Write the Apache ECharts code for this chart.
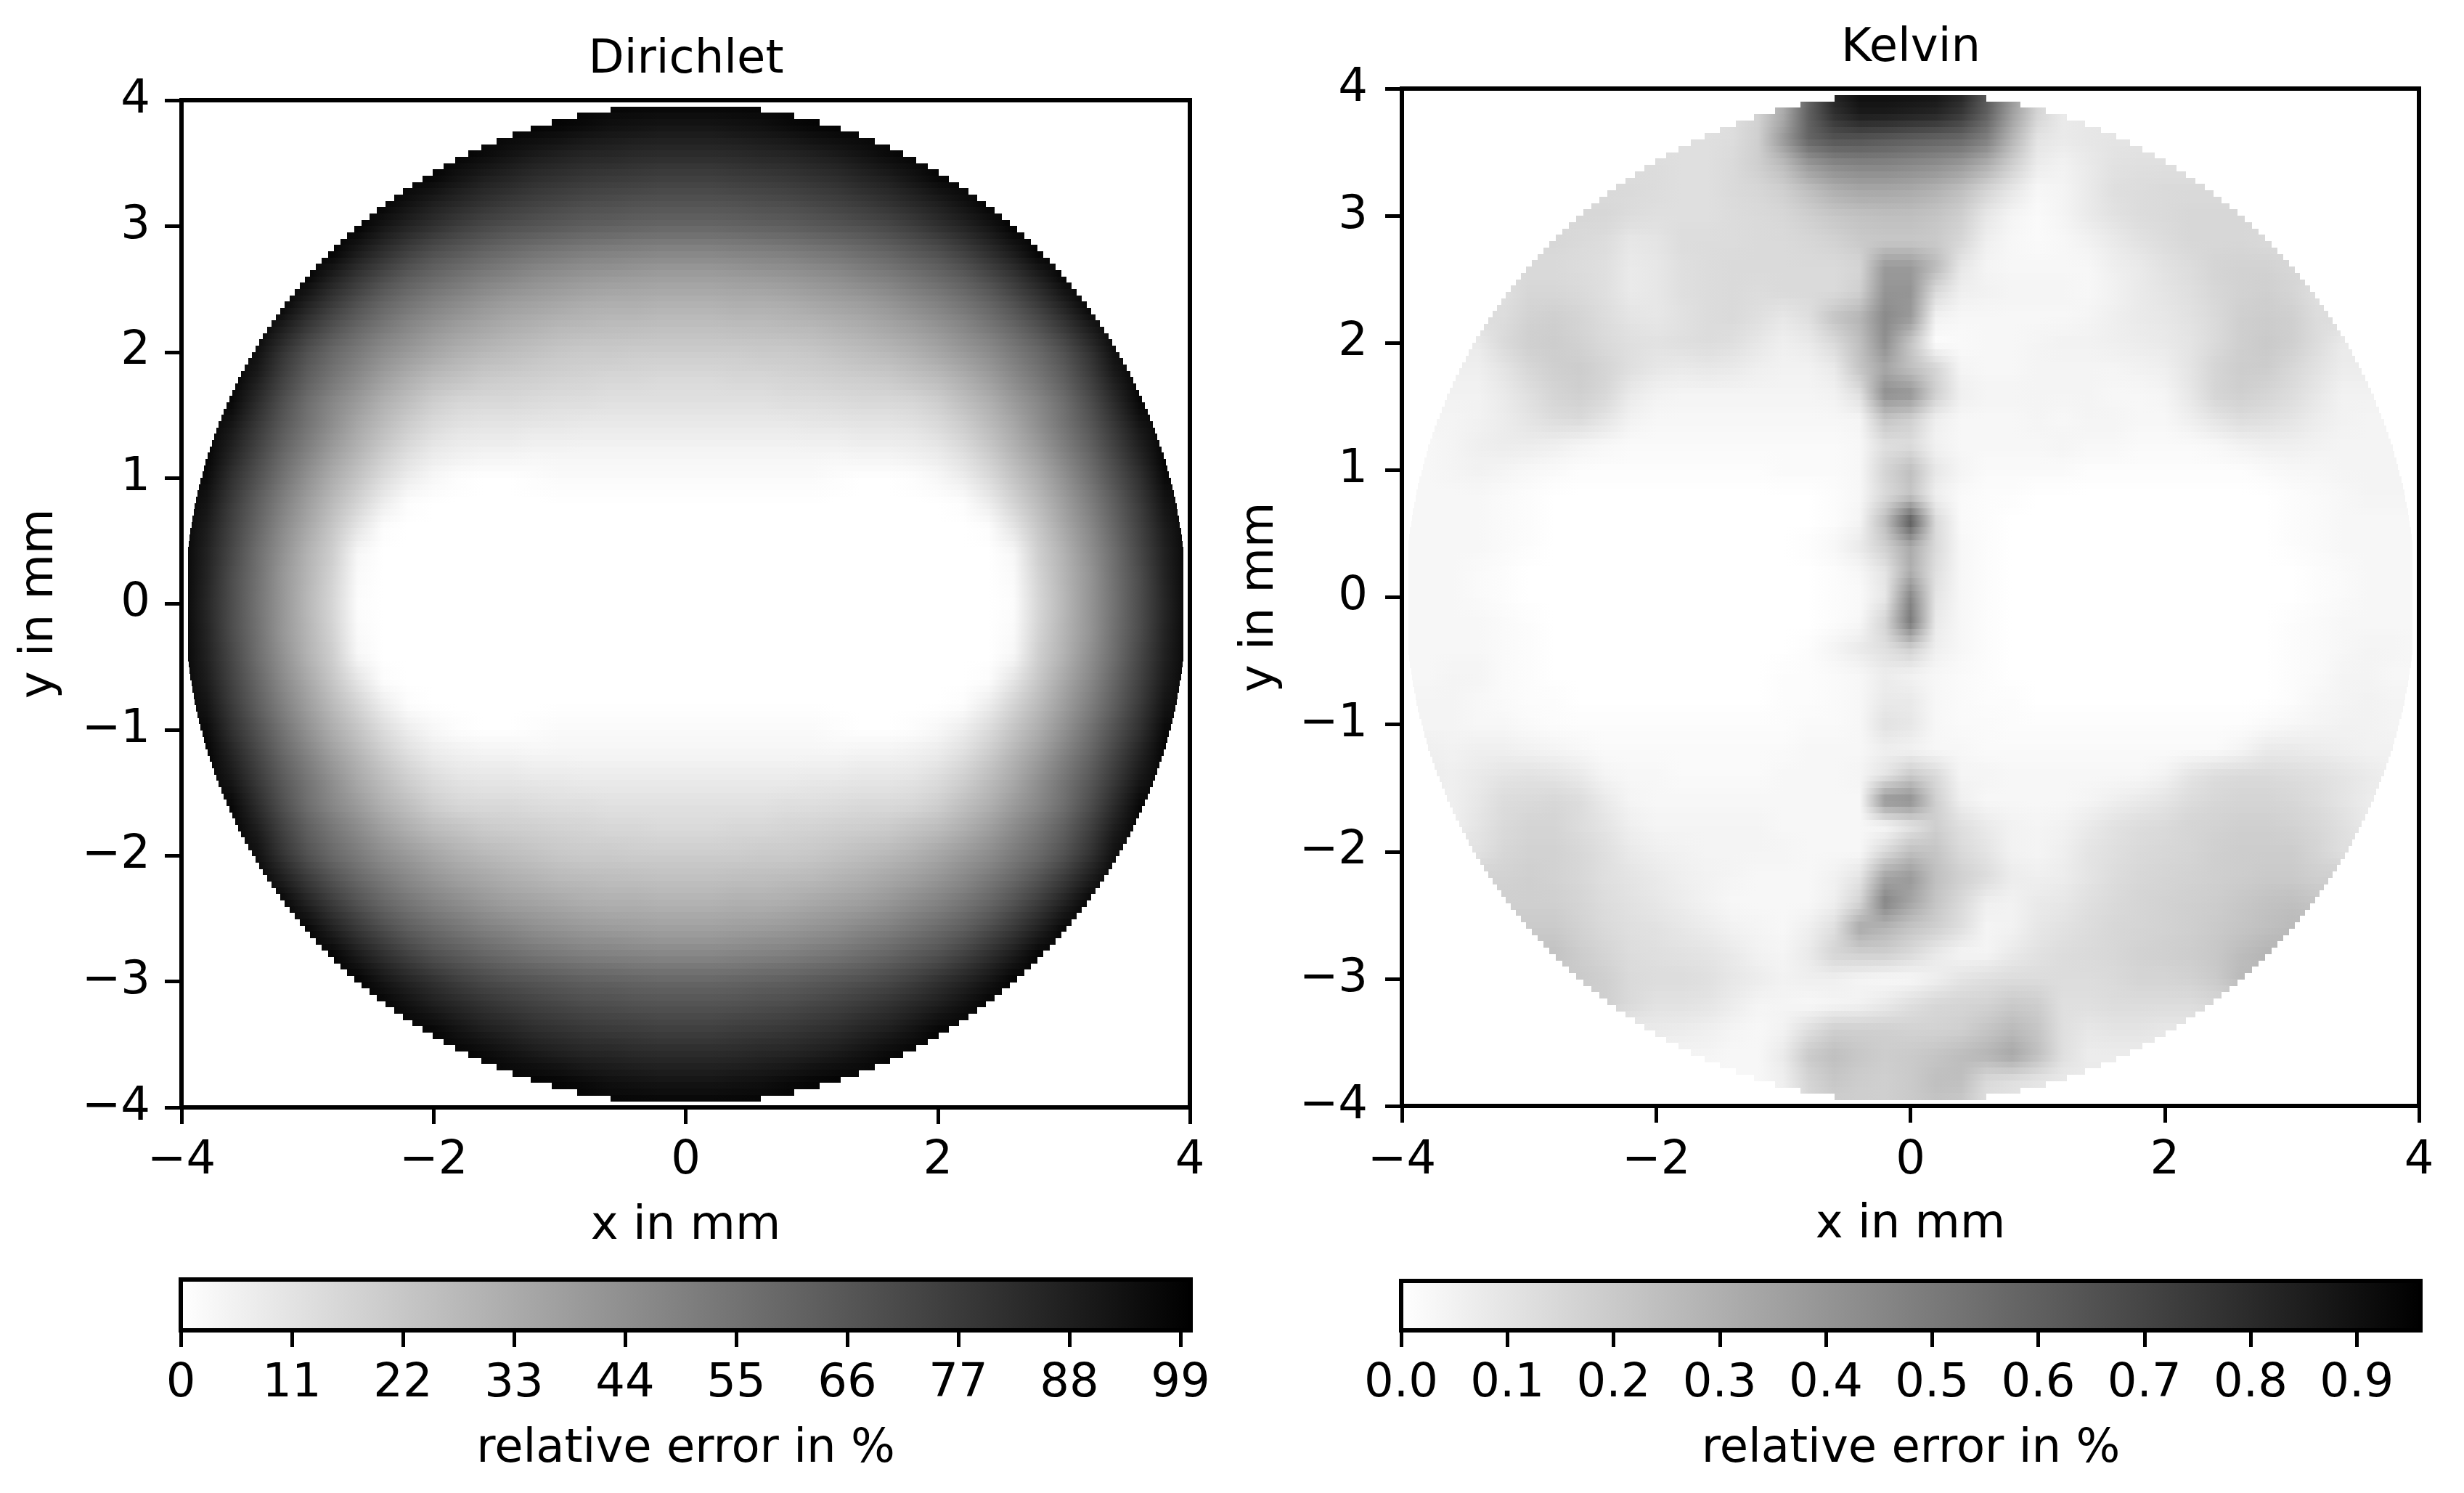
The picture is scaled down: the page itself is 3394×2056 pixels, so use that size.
<!DOCTYPE html>
<html>
<head>
<meta charset="utf-8">
<title>Dirichlet and Kelvin relative error</title>
<style>
  html, body { margin: 0; padding: 0; background: #fff; }
  #main { width: 3394px; height: 2056px; }
</style>
<script src="https://cdn.jsdelivr.net/npm/echarts@6/dist/echarts.min.js"></script>
</head>
<body>
<div id="main"></div>
<script>
// node positions of the value tables below, in mm (same list for x and y)
const nodeCoords = [-4,-3.8,-3.6,-3.4,-3.2,-3,-2.8,-2.6,-2.4,-2.2,-2,-1.8,-1.6,-1.4,-1.2,-1,-0.8,-0.6,-0.4,-0.2,0,0.2,0.4,0.6,0.8,1,1.2,1.4,1.6,1.8,2,2.2,2.4,2.6,2.8,3,3.2,3.4,3.6,3.8,4];

// relative error in %. first row is y = 4, last is y = -4
const dirichletRows = [
[99,99,99,99,99,99,99,99,99,99,99,99,99,99,99,99,99,99,99,99,99,99,99,99,99,99,99,99,99,99,99,99,99,99,99,99,99,99,99,99,99],
[99,99,99,99,99,99,99,99,99,99,99,99,99,99,99,98,96,94,93,92,92,92,93,94,96,98,99,99,99,99,99,99,99,99,99,99,99,99,99,99,99],
[99,99,99,99,99,99,99,99,99,99,99,99,97,94,91,89,87,86,85,84,84,84,85,86,87,89,91,94,97,99,99,99,99,99,99,99,99,99,99,99,99],
[99,99,99,99,99,99,99,99,99,99,98,93,89,86,83,81,79,78,77,76,76,76,77,78,79,81,83,86,89,93,98,99,99,99,99,99,99,99,99,99,99],
[99,99,99,99,99,99,99,99,99,94,89,85,81,78,75,73,71,70,69,68,68,68,69,70,71,73,75,78,81,85,89,94,99,99,99,99,99,99,99,99,99],
[99,99,99,99,99,99,99,99,92,86,81,76,72,69,67,65,63,62,61,60,60,60,61,62,63,65,67,69,72,76,81,86,92,99,99,99,99,99,99,99,99],
[99,99,99,99,99,99,99,90,82,75,69,65,61,58,55,53,51,50,49,48,48,48,49,50,51,53,55,58,61,65,69,75,82,90,99,99,99,99,99,99,99],
[99,99,99,99,99,98,88,79,71,64,59,55,51,48,45,43,41,40,39,38,38,38,39,40,41,43,45,48,51,55,59,64,71,79,88,98,99,99,99,99,99],
[99,99,99,99,99,88,78,69,61,55,50,46,42,39,37,35,33,32,32,31,31,31,32,32,33,35,37,39,42,46,50,55,61,69,78,88,99,99,99,99,99],
[99,99,99,99,89,78,68,60,53,47,42,38,35,32,30,28,27,26,26,25,25,25,26,26,27,28,30,32,35,38,42,47,53,60,68,78,89,99,99,99,99],
[99,99,99,94,80,68,59,52,45,40,35,31,28,26,24,22,21,21,20,20,20,20,20,21,21,22,24,26,28,31,35,40,45,52,59,68,80,94,99,99,99],
[99,99,99,89,75,63,54,46,38,32,27,24,21,20,19,18,17,16,16,15,15,15,16,16,17,18,19,20,21,24,27,32,38,46,54,63,75,89,99,99,99],
[99,99,97,83,69,57,47,39,31,25,19,16,15,15,14,13,13,12,12,12,12,12,12,12,13,13,14,15,15,16,19,25,31,39,47,57,69,83,97,99,99],
[99,99,91,78,65,54,44,34,26,19,14,11,10,10,9,9,8,8,8,8,8,8,8,8,8,9,9,10,10,11,14,19,26,34,44,54,65,78,91,99,99],
[99,99,86,73,60,49,38,29,20,13,8,6,5,5,4,4,4,4,4,4,4,4,4,4,4,4,4,5,5,6,8,13,20,29,38,49,60,73,86,99,99],
[99,96,81,68,55,43,32,23,14,7,3,1,0,0,1,2,2,2,2,2,2,2,2,2,2,2,1,0,0,1,3,7,14,23,32,43,55,68,81,96,99],
[99,92,77,63,50,38,27,17,7,1,0,0,0,0,0,0,0,0,0,0,0,0,0,0,0,0,0,0,0,0,0,1,7,17,27,38,50,63,77,92,99],
[99,89,74,60,46,34,22,10,1,0,0,0,0,0,0,0,0,0,0,0,0,0,0,0,0,0,0,0,0,0,0,0,1,10,22,34,46,60,74,89,99],
[99,87,72,57,43,30,19,3,0,0,0,0,0,0,0,0,0,0,0,0,0,0,0,0,0,0,0,0,0,0,0,0,0,3,19,30,43,57,72,87,99],
[99,86,70,56,41,29,17,2,0,0,0,0,0,0,0,0,0,0,0,0,0,0,0,0,0,0,0,0,0,0,0,0,0,2,17,29,41,56,70,86,99],
[99,85,70,55,41,28,16,1,0,0,0,0,0,0,0,0,0,0,0,0,0,0,0,0,0,0,0,0,0,0,0,0,0,1,16,28,41,55,70,85,99],
[99,86,70,56,41,29,17,2,0,0,0,0,0,0,0,0,0,0,0,0,0,0,0,0,0,0,0,0,0,0,0,0,0,2,17,29,41,56,70,86,99],
[99,87,72,57,43,30,19,3,0,0,0,0,0,0,0,0,0,0,0,0,0,0,0,0,0,0,0,0,0,0,0,0,0,3,19,30,43,57,72,87,99],
[99,89,74,60,46,34,22,10,1,0,0,0,0,0,0,0,0,0,0,0,0,0,0,0,0,0,0,0,0,0,0,0,1,10,22,34,46,60,74,89,99],
[99,92,77,63,50,38,27,17,7,1,0,0,0,0,0,0,0,0,0,0,0,0,0,0,0,0,0,0,0,0,0,1,7,17,27,38,50,63,77,92,99],
[99,96,81,68,55,43,32,23,14,7,3,1,0,0,1,2,2,2,2,2,2,2,2,2,2,2,1,0,0,1,3,7,14,23,32,43,55,68,81,96,99],
[99,99,86,73,60,49,38,29,20,13,8,6,5,5,4,4,4,4,4,4,4,4,4,4,4,4,4,5,5,6,8,13,20,29,38,49,60,73,86,99,99],
[99,99,91,78,65,54,44,34,26,19,14,11,10,10,9,9,8,8,8,8,8,8,8,8,8,9,9,10,10,11,14,19,26,34,44,54,65,78,91,99,99],
[99,99,97,83,69,57,47,39,31,25,19,16,15,15,14,13,13,12,12,12,12,12,12,12,13,13,14,15,15,16,19,25,31,39,47,57,69,83,97,99,99],
[99,99,99,89,75,63,54,46,38,32,27,24,21,20,19,18,17,16,16,15,15,15,16,16,17,18,19,20,21,24,27,32,38,46,54,63,75,89,99,99,99],
[99,99,99,94,80,68,59,52,45,40,35,31,28,26,24,22,21,21,20,20,20,20,20,21,21,22,24,26,28,31,35,40,45,52,59,68,80,94,99,99,99],
[99,99,99,99,89,78,68,60,53,47,42,38,35,32,30,28,27,26,26,25,25,25,26,26,27,28,30,32,35,38,42,47,53,60,68,78,89,99,99,99,99],
[99,99,99,99,99,88,78,69,61,55,50,46,42,39,37,35,33,32,32,31,31,31,32,32,33,35,37,39,42,46,50,55,61,69,78,88,99,99,99,99,99],
[99,99,99,99,99,98,88,79,71,64,59,55,51,48,45,43,41,40,39,38,38,38,39,40,41,43,45,48,51,55,59,64,71,79,88,98,99,99,99,99,99],
[99,99,99,99,99,99,99,90,82,75,69,65,61,58,55,53,51,50,49,48,48,48,49,50,51,53,55,58,61,65,69,75,82,90,99,99,99,99,99,99,99],
[99,99,99,99,99,99,99,99,92,86,81,76,72,69,67,65,63,62,61,60,60,60,61,62,63,65,67,69,72,76,81,86,92,99,99,99,99,99,99,99,99],
[99,99,99,99,99,99,99,99,99,94,89,85,81,78,75,73,71,70,69,68,68,68,69,70,71,73,75,78,81,85,89,94,99,99,99,99,99,99,99,99,99],
[99,99,99,99,99,99,99,99,99,99,98,93,89,86,83,81,79,78,77,76,76,76,77,78,79,81,83,86,89,93,98,99,99,99,99,99,99,99,99,99,99],
[99,99,99,99,99,99,99,99,99,99,99,99,97,94,91,89,87,86,85,84,84,84,85,86,87,89,91,94,97,99,99,99,99,99,99,99,99,99,99,99,99],
[99,99,99,99,99,99,99,99,99,99,99,99,99,99,99,98,96,94,93,92,92,92,93,94,96,98,99,99,99,99,99,99,99,99,99,99,99,99,99,99,99],
[99,99,99,99,99,99,99,99,99,99,99,99,99,99,99,99,99,99,99,99,99,99,99,99,99,99,99,99,99,99,99,99,99,99,99,99,99,99,99,99,99]
];

// relative error in hundredths of a %. same layout
const kelvinRows = [
[10,10,10,10,10,10,10,10,10,10,10,10,10,10,17,30,58,84,92,92,91,90,84,64,40,18,8,8,8,8,8,8,8,8,8,8,8,8,8,8,8],
[10,10,10,10,10,10,10,10,10,10,10,10,10,12,17,32,60,78,86,86,84,82,75,60,36,16,8,9,9,9,9,9,9,9,9,9,9,9,9,9,9],
[12,12,12,12,12,12,12,12,12,12,12,12,12,13,18,38,58,64,64,62,60,58,56,48,28,10,8,9,10,10,10,10,10,10,10,10,10,10,10,10,10],
[13,13,13,13,13,13,13,13,13,13,13,12,12,14,18,25,38,44,46,46,44,42,38,30,18,7,5,8,11,12,12,12,12,12,12,12,12,12,12,12,12],
[14,14,14,14,14,14,14,14,14,14,13,12,12,14,15,18,24,30,33,33,32,29,24,16,9,3,4,8,12,13,14,14,14,14,14,14,14,14,14,14,14],
[15,15,15,15,15,15,15,15,15,13,12,12,12,13,14,15,18,21,23,24,24,22,18,9,4,2,4,8,11,13,14,15,15,15,15,15,15,15,15,15,15],
[15,15,15,15,15,15,15,14,13,9,10,13,13,13,14,14,15,17,20,21,21,20,15,6,3,2,3,5,8,11,13,15,15,15,14,14,14,14,14,14,14],
[14,14,14,14,14,14,14,13,12,8,9,12,13,14,14,14,14,14,16,38,38,26,9,4,3,3,3,3,6,8,11,13,16,17,17,15,15,15,15,15,15],
[12,12,12,12,12,15,15,14,12,8,9,12,13,14,13,14,14,14,18,40,40,14,6,5,4,4,4,3,5,8,10,12,15,17,18,16,12,12,12,12,12],
[13,13,13,13,13,17,18,16,13,10,9,11,13,14,12,9,12,22,28,44,38,5,3,3,3,3,3,4,6,8,9,11,14,18,19,18,13,13,13,13,13],
[8,8,8,8,14,18,19,17,14,12,11,12,13,12,9,6,8,14,24,42,22,1,2,3,3,4,5,5,6,7,8,10,14,18,20,18,13,8,8,8,8],
[6,6,6,6,10,15,18,19,16,12,9,8,9,8,6,5,5,8,22,33,24,16,4,3,3,4,4,4,4,5,6,10,16,19,19,15,11,7,7,7,7],
[5,5,5,5,8,12,16,18,15,8,5,4,4,4,4,4,4,5,12,42,40,18,6,4,4,4,4,4,3,3,4,9,16,18,16,13,9,5,5,5,5],
[4,4,4,5,7,10,13,14,10,5,3,3,3,3,3,3,3,3,4,22,18,6,3,3,3,4,3,4,4,3,3,6,10,13,12,10,7,5,4,4,4],
[3,3,4,6,7,7,6,4,3,2,2,2,2,2,2,2,2,2,3,12,13,5,3,3,3,3,4,3,3,2,2,2,3,5,6,6,5,4,4,4,4],
[3,3,4,5,4,3,2,1,1,1,1,1,1,1,1,2,2,2,3,16,24,9,4,2,2,2,2,1,1,1,1,1,1,1,2,3,3,4,4,4,4],
[3,3,3,3,2,1,0,0,0,0,0,0,0,0,0,0,0,1,3,14,22,6,2,1,1,0,0,0,0,0,0,0,0,0,0,1,2,3,4,4,4],
[3,3,3,3,2,1,0,0,0,0,0,0,0,0,0,0,0,1,4,25,62,14,2,1,0,0,0,0,0,0,0,0,0,0,0,1,2,3,3,3,3],
[3,3,3,3,2,1,0,0,0,0,0,0,0,0,0,0,1,3,8,18,32,14,3,1,0,0,0,0,0,0,0,0,0,0,0,1,2,3,3,3,3],
[3,3,3,2,1,0,0,0,0,0,0,0,0,0,0,0,0,1,3,10,30,12,3,1,0,0,0,0,0,0,0,0,0,0,0,0,1,2,3,3,3],
[3,3,3,2,1,0,0,0,0,0,0,0,0,0,0,0,0,1,2,9,45,10,3,1,0,0,0,0,0,0,0,0,0,0,0,0,1,2,3,3,3],
[3,3,3,3,2,1,0,0,0,0,0,0,0,0,0,0,0,1,3,16,50,8,3,1,0,0,0,0,0,0,0,0,0,0,0,1,2,3,3,3,3],
[3,3,3,3,2,1,0,0,0,0,0,0,0,0,0,0,1,4,8,12,18,6,3,1,0,0,0,0,0,0,0,0,0,0,0,1,2,3,4,4,3],
[3,3,4,4,2,1,0,0,0,0,0,0,0,0,0,1,1,2,3,7,5,3,2,1,0,0,0,0,0,0,0,0,0,0,0,1,2,4,4,3,3],
[4,4,4,3,2,1,1,0,0,0,0,0,0,0,0,1,1,2,3,8,8,3,2,1,1,0,0,0,0,0,0,0,0,0,0,1,3,4,5,4,4],
[4,4,4,3,3,2,1,1,1,1,1,1,1,1,1,1,2,2,3,11,9,3,2,2,1,1,1,1,1,1,1,1,1,1,2,3,4,5,5,4,4],
[6,6,5,6,6,5,4,3,2,2,2,2,2,2,2,2,3,3,3,6,5,3,3,2,2,2,2,2,2,2,2,2,2,4,8,8,7,6,5,5,5],
[7,7,6,8,10,11,10,8,4,3,3,2,2,2,2,3,3,3,4,10,20,14,4,4,3,3,3,3,3,3,5,10,13,14,14,13,12,10,8,6,6],
[6,6,6,9,13,14,15,13,8,4,3,3,3,3,3,3,3,3,3,40,42,18,6,3,3,3,3,4,6,8,10,13,15,16,16,15,13,10,7,7,7],
[6,6,6,10,14,16,16,13,10,6,4,4,4,4,4,3,3,3,3,3,10,18,12,8,5,4,5,8,11,13,14,16,17,18,18,17,15,12,8,8,8],
[11,11,11,11,15,17,17,15,12,8,6,5,4,4,4,4,3,3,3,14,24,22,14,10,5,4,6,10,12,14,15,16,18,19,19,19,16,12,12,12,12],
[17,17,17,17,17,18,17,15,12,10,8,6,5,4,3,3,3,5,10,34,38,24,18,13,7,6,7,10,13,15,16,17,18,19,20,20,18,18,18,18,18],
[18,18,18,18,18,18,18,16,13,11,9,7,5,3,3,3,3,6,16,46,34,22,14,6,5,8,9,12,14,16,17,18,19,21,23,24,22,22,22,22,22],
[20,20,20,20,20,20,20,17,14,12,11,9,7,5,4,3,6,12,32,28,22,18,12,4,5,9,11,13,15,16,17,18,20,22,24,26,26,26,26,26,26],
[23,23,23,23,23,23,23,19,16,13,12,11,10,8,5,4,8,16,18,18,14,8,4,4,8,11,13,14,15,17,18,19,21,25,28,28,28,28,28,28,28],
[20,20,20,20,20,20,20,20,18,14,13,13,12,9,7,5,6,6,4,3,3,6,10,12,13,13,13,13,14,16,16,17,20,26,26,26,26,26,26,26,26],
[18,18,18,18,18,18,18,18,18,14,11,11,10,7,4,4,3,4,5,8,12,15,16,17,20,19,12,12,13,13,13,13,15,15,15,15,15,15,15,15,15],
[8,8,8,8,8,8,8,8,8,8,8,7,6,4,3,5,12,18,18,18,17,17,18,22,26,22,12,9,10,10,9,9,9,9,9,9,9,9,9,9,9],
[4,4,4,4,4,4,4,4,4,4,4,4,4,3,3,8,20,24,21,19,20,22,25,28,33,24,12,7,7,7,7,7,7,7,7,7,7,7,7,7,7],
[3,3,3,3,3,3,3,3,3,3,3,3,3,3,3,6,16,21,19,18,20,24,24,14,12,10,8,8,8,8,8,8,8,8,8,8,8,8,8,8,8],
[3,3,3,3,3,3,3,3,3,3,3,3,3,3,3,5,14,18,18,18,20,22,20,12,10,8,8,8,8,8,8,8,8,8,8,8,8,8,8,8,8]
];

const dirichletBarTicks = [0, 11, 22, 33, 44, 55, 66, 77, 88, 99];
const kelvinBarTicks = [0, 0.1, 0.2, 0.3, 0.4, 0.5, 0.6, 0.7, 0.8, 0.9];
const dirichletBarRange = [0, 100];
const kelvinBarRange = [0, 0.96];

const FONT = 'DejaVu Sans';
const FONT_SIZE = 64;
const LINE = 6;
const DISC_RADIUS = 3.97;
const DISC_FLAT = 3.95;   // the mesh stops short of the rim left and right
const SUB_ROWS = 4;

function toMinus(v) {
    return String(v).replace('-', '\u2212');
}

function grey(v, vmax) {
    const g = Math.round(255 * (1 - Math.min(v / vmax, 1)));
    return 'rgb(' + g + ',' + g + ',' + g + ')';
}

// one item per mesh cell: x0, x1, yTop, yBottom and the four corner values
function toCells(rows) {
    const cells = [];
    for (let j = 0; j < rows.length - 1; j++) {
        for (let i = 0; i < nodeCoords.length - 1; i++) {
            cells.push([
                nodeCoords[i], nodeCoords[i + 1],
                nodeCoords[nodeCoords.length - 1 - j], nodeCoords[nodeCoords.length - 2 - j],
                rows[j][i], rows[j][i + 1], rows[j + 1][i], rows[j + 1][i + 1]
            ]);
        }
    }
    return cells;
}

// shade a cell between its corners (the source plot is gouraud shaded), cut to the disc
function fieldRenderer(vmax) {
    return function (params, api) {
        const x0 = api.value(0), x1 = api.value(1);
        const yTop = api.value(2), yBot = api.value(3);
        const tl = api.value(4), tr = api.value(5), bl = api.value(6), br = api.value(7);
        const left = api.coord([x0, yTop])[0], right = api.coord([x1, yTop])[0];
        const children = [];
        for (let k = 0; k < SUB_ROWS; k++) {
            const f = (k + 0.5) / SUB_ROWS;
            const ym = yTop + (yBot - yTop) * f;
            if (Math.abs(ym) >= DISC_RADIUS) continue;
            const half = Math.min(DISC_FLAT, Math.sqrt(DISC_RADIUS * DISC_RADIUS - ym * ym));
            const xa = Math.max(x0, -half), xb = Math.min(x1, half);
            if (xb <= xa) continue;
            const py0 = Math.round(api.coord([x0, yTop + (yBot - yTop) * k / SUB_ROWS])[1]);
            const py1 = Math.round(api.coord([x0, yTop + (yBot - yTop) * (k + 1) / SUB_ROWS])[1]);
            const pxa = Math.round(api.coord([xa, ym])[0]);
            const pxb = Math.round(api.coord([xb, ym])[0]);
            children.push({
                type: 'rect',
                shape: { x: pxa, y: py0, width: pxb - pxa + (xb < x1 ? 0 : 1), height: py1 - py0 + 1 },
                style: {
                    fill: new echarts.graphic.LinearGradient(left, 0, right, 0, [
                        { offset: 0, color: grey(tl + (bl - tl) * f, vmax) },
                        { offset: 1, color: grey(tr + (br - tr) * f, vmax) }
                    ], true)
                }
            });
        }
        return { type: 'group', children: children };
    };
}

// keeps inside the frame line, the series is painted over the grid border
function renderBar(params, api) {
    const a = api.coord([api.value(0), 0]);
    const b = api.coord([api.value(1), 1]);
    const inset = LINE / 2;
    return {
        type: 'rect',
        shape: { x: a[0] + inset, y: b[1] + inset, width: b[0] - a[0] - LINE, height: a[1] - b[1] - LINE },
        style: {
            fill: new echarts.graphic.LinearGradient(a[0], 0, b[0], 0, [
                { offset: 0, color: '#fff' },
                { offset: 1, color: '#000' }
            ], true)
        }
    };
}

const textStyle = { fontFamily: FONT, fontSize: FONT_SIZE, color: '#000' };
const tickLine = { show: true, inside: false, length: 23, lineStyle: { color: '#000', width: LINE - 1 } };
const hiddenLine = { show: false, onZero: false };

function panelXAxis(gridIndex, margin) {
    return {
        type: 'value', gridIndex: gridIndex, min: -4, max: 4, interval: 2,
        name: 'x in mm', nameLocation: 'middle', nameGap: 132, nameTextStyle: textStyle,
        axisLine: hiddenLine, splitLine: { show: false }, axisTick: tickLine,
        axisLabel: Object.assign({ margin: margin, formatter: toMinus }, textStyle)
    };
}

function panelYAxis(gridIndex, margin) {
    return {
        type: 'value', gridIndex: gridIndex, min: -4, max: 4, interval: 1,
        name: 'y in mm', nameLocation: 'middle', nameGap: 163, nameTextStyle: textStyle,
        axisLine: hiddenLine, splitLine: { show: false }, axisTick: tickLine,
        axisLabel: Object.assign({ margin: margin, padding: [34, 0, 0, 0], formatter: toMinus }, textStyle)
    };
}

function barXAxis(gridIndex, range, ticks, format) {
    return {
        type: 'value', gridIndex: gridIndex, min: range[0], max: range[1],
        name: 'relative error in %', nameLocation: 'middle', nameGap: 132, nameTextStyle: textStyle,
        axisLine: hiddenLine, splitLine: { show: false },
        axisTick: Object.assign({ customValues: ticks }, tickLine),
        axisLabel: Object.assign({ customValues: ticks, margin: 42, formatter: format }, textStyle)
    };
}

function barYAxis(gridIndex) {
    return { type: 'value', gridIndex: gridIndex, min: 0, max: 1, show: false };
}

function fieldSeries(index, rows, vmax) {
    return {
        type: 'custom', xAxisIndex: index, yAxisIndex: index,
        data: toCells(rows), renderItem: fieldRenderer(vmax),
        encode: { x: [0, 1], y: [2, 3] },
        silent: true, animation: false, progressive: 0, clip: false
    };
}

function barSeries(index, range) {
    return {
        type: 'custom', xAxisIndex: index, yAxisIndex: index,
        data: [range], renderItem: renderBar,
        encode: { x: [0, 1] },
        silent: true, animation: false, clip: false
    };
}

const frame = { show: true, borderColor: '#000', borderWidth: LINE, backgroundColor: '#fff', outerBoundsMode: 'none' };

const option = {
    backgroundColor: '#fff',
    animation: false,
    title: [
        { text: 'Dirichlet', left: 940, top: 46, textAlign: 'center', textStyle: Object.assign({ fontWeight: 'normal' }, textStyle) },
        { text: 'Kelvin', left: 2627, top: 30, textAlign: 'center', textStyle: Object.assign({ fontWeight: 'normal' }, textStyle) }
    ],
    grid: [
        Object.assign({ left: 250, top: 138, width: 1389, height: 1387 }, frame),
        Object.assign({ left: 1931, top: 122, width: 1401, height: 1401 }, frame),
        Object.assign({ left: 249, top: 1762, width: 1391, height: 70 }, frame),
        Object.assign({ left: 1930, top: 1764, width: 1404, height: 68 }, frame)
    ],
    xAxis: [
        panelXAxis(0, 42),
        panelXAxis(1, 44),
        barXAxis(2, dirichletBarRange, dirichletBarTicks, function (v) { return String(v); }),
        barXAxis(3, kelvinBarRange, kelvinBarTicks, function (v) { return v.toFixed(1); })
    ],
    yAxis: [panelYAxis(0, 43), panelYAxis(1, 47), barYAxis(2), barYAxis(3)],
    series: [
        fieldSeries(0, dirichletRows, dirichletBarRange[1]),
        fieldSeries(1, kelvinRows, kelvinBarRange[1] * 100),
        barSeries(2, dirichletBarRange),
        barSeries(3, kelvinBarRange)
    ]
};

const chart = echarts.init(document.getElementById('main'));
chart.setOption(option);
</script>
</body>
</html>
